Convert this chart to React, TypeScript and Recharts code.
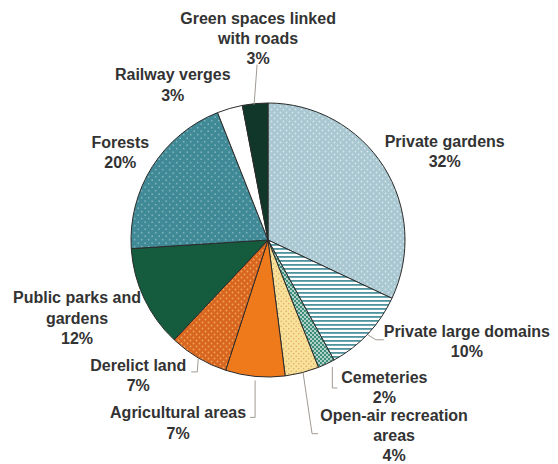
import React from 'react';
import { PieChart, Pie, Cell } from 'recharts';

const categories = [
  'Private gardens',
  'Private large domains',
  'Cemeteries',
  'Open-air recreation areas',
  'Agricultural areas',
  'Derelict land',
  'Public parks and gardens',
  'Forests',
  'Railway verges',
  'Green spaces linked with roads',
];

const shares = [32, 10, 2, 4, 7, 7, 12, 20, 3, 3];

// how each category label is broken over lines
const labelLines = [
  ['Private gardens'],
  ['Private large domains'],
  ['Cemeteries'],
  ['Open-air recreation', 'areas'],
  ['Agricultural areas'],
  ['Derelict land'],
  ['Public parks and', 'gardens'],
  ['Forests'],
  ['Railway verges'],
  ['Green spaces linked', 'with roads'],
];

const fills = [
  'url(#dotsGardens)',
  'url(#stripesDomains)',
  'url(#dotsCemeteries)',
  'url(#dotsOpenAir)',
  '#ee7a1c',
  'url(#dotsDerelict)',
  '#145c3d',
  'url(#dotsForests)',
  '#ffffff',
  '#11372b',
];

// text offset from the slice's outer edge point, and leader-line points (offsets too)
const labelLayout = [
  { dx: 61, dy: -26, line: [] as number[][] },
  { dx: 99, dy: -3, line: [[0, 1], [8, 6], [16, 6]] },
  { dx: 58, dy: 13, line: [[6, 3], [6, 24], [11, 24]] },
  { dx: 92, dy: 42, line: [[1, 0], [10, 61], [16, 61]] },
  { dx: -77, dy: 36, line: [[0, 4], [0, 41], [-5, 41]] },
  { dx: -60, dy: 7, line: [[0, 1], [-1, 14], [-7, 14]] },
  { dx: -67, dy: -1, line: [] },
  { dx: -32, dy: -25, line: [] },
  { dx: -57, dy: -34, line: [] },
  { dx: 3, dy: -86, line: [[2, -39], [-1, 1]] },
];

const data = categories.map((name, i) => ({ name, value: shares[i] }));

const RADIAN = Math.PI / 180;

const renderLabel = (props: any) => {
  const { cx, cy, midAngle, outerRadius, index } = props;
  const ex = cx + outerRadius * Math.cos(-midAngle * RADIAN);
  const ey = cy + outerRadius * Math.sin(-midAngle * RADIAN);
  const lay = labelLayout[index];
  const tx = ex + lay.dx;
  const ty = ey + lay.dy;
  const lines = [...labelLines[index], `${shares[index]}%`];
  return (
    <g key={`lbl-${index}`}>
      {lay.line.length > 0 && (
        <polyline
          points={lay.line.map(([x, y]) => `${ex + x},${ey + y}`).join(' ')}
          fill="none"
          stroke="#a09a94"
          strokeWidth={1}
        />
      )}
      <text
        x={tx}
        y={ty}
        textAnchor="middle"
        dominantBaseline="central"
        fill="#333333"
        fontFamily="'Liberation Sans', Arial, sans-serif"
        fontWeight="bold"
        fontSize={16}
      >
        {lines.map((l, k) => (
          <tspan key={k} x={tx} dy={k === 0 ? 0 : 20.2}>
            {l}
          </tspan>
        ))}
      </text>
    </g>
  );
};

export default function App() {
  return (
    <div style={{ position: 'absolute', left: 0, top: 0, width: 558, height: 464, background: '#ffffff' }}>
      <PieChart width={558} height={464} margin={{ top: 0, right: 0, bottom: 0, left: 0 }}>
        <defs>
          <pattern id="dotsGardens" width="6" height="6" patternUnits="userSpaceOnUse">
            <rect width="6" height="6" fill="#a9c7d1" />
            <circle cx="1.5" cy="1.5" r="0.9" fill="#d6e6eb" />
            <circle cx="4.5" cy="4.5" r="0.9" fill="#d6e6eb" />
          </pattern>
          <pattern id="stripesDomains" width="4" height="4" patternUnits="userSpaceOnUse">
            <rect width="4" height="4" fill="#ffffff" />
            <rect y="0" width="4" height="1.8" fill="#4f939c" />
          </pattern>
          <pattern id="dotsCemeteries" width="4" height="4" patternUnits="userSpaceOnUse">
            <rect width="4" height="4" fill="#3d8f7c" />
            <circle cx="1" cy="1" r="0.9" fill="#e8f2ee" />
            <circle cx="3" cy="3" r="0.9" fill="#e8f2ee" />
          </pattern>
          <pattern id="dotsOpenAir" width="5" height="5" patternUnits="userSpaceOnUse">
            <rect width="5" height="5" fill="#f8e19a" />
            <circle cx="1.2" cy="1.2" r="0.7" fill="#dfa45a" />
            <circle cx="3.7" cy="3.7" r="0.7" fill="#dfa45a" />
          </pattern>
          <pattern id="dotsDerelict" width="6" height="6" patternUnits="userSpaceOnUse">
            <rect width="6" height="6" fill="#d8661f" />
            <circle cx="1.5" cy="1.5" r="0.9" fill="#f4a35a" />
            <circle cx="4.5" cy="4.5" r="0.9" fill="#f4a35a" />
          </pattern>
          <pattern id="dotsForests" width="7" height="7" patternUnits="userSpaceOnUse">
            <rect width="7" height="7" fill="#3f8a96" />
            <circle cx="1.7" cy="1.7" r="0.9" fill="#7fb2bb" />
            <circle cx="5.2" cy="5.2" r="0.9" fill="#7fb2bb" />
          </pattern>
        </defs>
        <Pie
          data={data}
          dataKey="value"
          nameKey="name"
          cx={268}
          cy={240}
          outerRadius={137}
          startAngle={90}
          endAngle={-270}
          stroke="#2b2b2b"
          strokeWidth={1}
          label={renderLabel}
          labelLine={false}
          isAnimationActive={false}
        >
          {data.map((d, i) => (
            <Cell key={d.name} fill={fills[i]} />
          ))}
        </Pie>
      </PieChart>
    </div>
  );
}
